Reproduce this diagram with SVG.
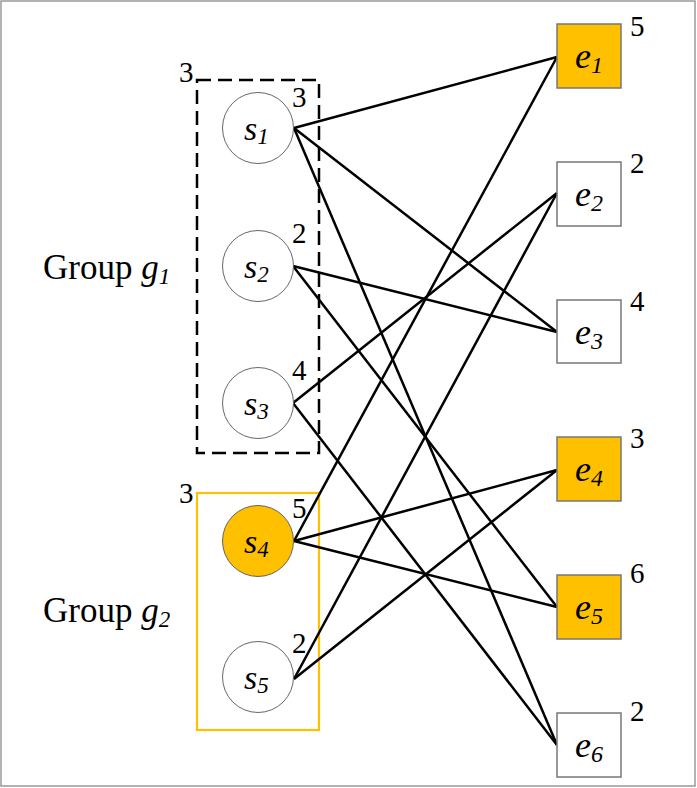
<svg xmlns="http://www.w3.org/2000/svg" width="697" height="788" viewBox="0 0 697 788">
<style>
.t{font-family:"Liberation Serif","Times New Roman",serif;fill:#000}
.lab{font-size:29px}
.it{font-style:italic}
.c{fill:#fff;stroke:#555;stroke-width:0.9}
.b{fill:#fff;stroke:#777;stroke-width:1.5}
.e{stroke:#000;stroke-width:2.5;fill:none}
</style>
<rect x="1" y="1" width="694" height="785" fill="#fff" stroke="#999" stroke-width="1.5"/>
<g id="group1">
<rect x="197" y="80" width="122" height="373" fill="none" stroke="#000" stroke-width="2.5" stroke-dasharray="14,7"/>
<text class="t lab" x="179" y="82">3</text>
<text class="t" x="43" y="279" font-size="35">Group <tspan class="it">g</tspan><tspan class="it" font-size="23" dy="5">1</tspan></text>
</g>
<g id="group2">
<rect x="197" y="493" width="122" height="237" fill="none" stroke="#FFC000" stroke-width="2.2"/>
<text class="t lab" x="179" y="503">3</text>
<text class="t" x="43" y="622" font-size="35">Group <tspan class="it">g</tspan><tspan class="it" font-size="23" dy="5">2</tspan></text>
</g>
<g id="connectors">
<line class="e" x1="294" y1="128" x2="557" y2="57"/>
<line class="e" x1="294" y1="128" x2="557" y2="332"/>
<line class="e" x1="294" y1="128" x2="557" y2="745"/>
<line class="e" x1="293" y1="266" x2="557" y2="332"/>
<line class="e" x1="293" y1="266" x2="557" y2="607"/>
<line class="e" x1="293" y1="403" x2="557" y2="193"/>
<line class="e" x1="293" y1="403" x2="557" y2="745"/>
<line class="e" x1="294" y1="541" x2="557" y2="57"/>
<line class="e" x1="294" y1="541" x2="557" y2="470"/>
<line class="e" x1="294" y1="541" x2="557" y2="607"/>
<line class="e" x1="294" y1="679" x2="557" y2="193"/>
<line class="e" x1="294" y1="679" x2="557" y2="470"/>
</g>
<g id="s1">
<circle class="c" cx="258" cy="128" r="35.5"/>
<text class="t it" x="244" y="140" font-size="34">s<tspan font-size="23" dy="4">1</tspan></text>
<text class="t lab" x="292" y="107">3</text>
</g>
<g id="s2">
<circle class="c" cx="258" cy="266" r="35.5"/>
<text class="t it" x="244" y="278" font-size="34">s<tspan font-size="23" dy="4">2</tspan></text>
<text class="t lab" x="292" y="243">2</text>
</g>
<g id="s3">
<circle class="c" cx="258" cy="403" r="35.5"/>
<text class="t it" x="244" y="415" font-size="34">s<tspan font-size="23" dy="4">3</tspan></text>
<text class="t lab" x="292" y="380">4</text>
</g>
<g id="s4">
<circle class="c" cx="258" cy="541" r="35.5" style="fill:#FFC000"/>
<text class="t it" x="244" y="553" font-size="34">s<tspan font-size="23" dy="4">4</tspan></text>
<text class="t lab" x="292" y="518">5</text>
</g>
<g id="s5">
<circle class="c" cx="258" cy="677" r="35.5"/>
<text class="t it" x="244" y="689" font-size="34">s<tspan font-size="23" dy="4">5</tspan></text>
<text class="t lab" x="292" y="653">2</text>
</g>
<g id="e1">
<rect class="b" x="557" y="24" width="64" height="64" style="fill:#FFC000"/>
<text class="t it" x="575" y="68" font-size="36">e<tspan font-size="24" dy="5">1</tspan></text>
<text class="t lab" x="630" y="36">5</text>
</g>
<g id="e2">
<rect class="b" x="557" y="162" width="64" height="64"/>
<text class="t it" x="575" y="206" font-size="36">e<tspan font-size="24" dy="5">2</tspan></text>
<text class="t lab" x="630" y="173">2</text>
</g>
<g id="e3">
<rect class="b" x="557" y="300" width="64" height="63"/>
<text class="t it" x="575" y="344" font-size="36">e<tspan font-size="24" dy="5">3</tspan></text>
<text class="t lab" x="630" y="311">4</text>
</g>
<g id="e4">
<rect class="b" x="557" y="437" width="64" height="64" style="fill:#FFC000"/>
<text class="t it" x="575" y="481" font-size="36">e<tspan font-size="24" dy="5">4</tspan></text>
<text class="t lab" x="630" y="448">3</text>
</g>
<g id="e5">
<rect class="b" x="557" y="575" width="64" height="64" style="fill:#FFC000"/>
<text class="t it" x="575" y="619" font-size="36">e<tspan font-size="24" dy="5">5</tspan></text>
<text class="t lab" x="630" y="583">6</text>
</g>
<g id="e6">
<rect class="b" x="557" y="713" width="64" height="64"/>
<text class="t it" x="575" y="757" font-size="36">e<tspan font-size="24" dy="5">6</tspan></text>
<text class="t lab" x="630" y="721">2</text>
</g>
</svg>
